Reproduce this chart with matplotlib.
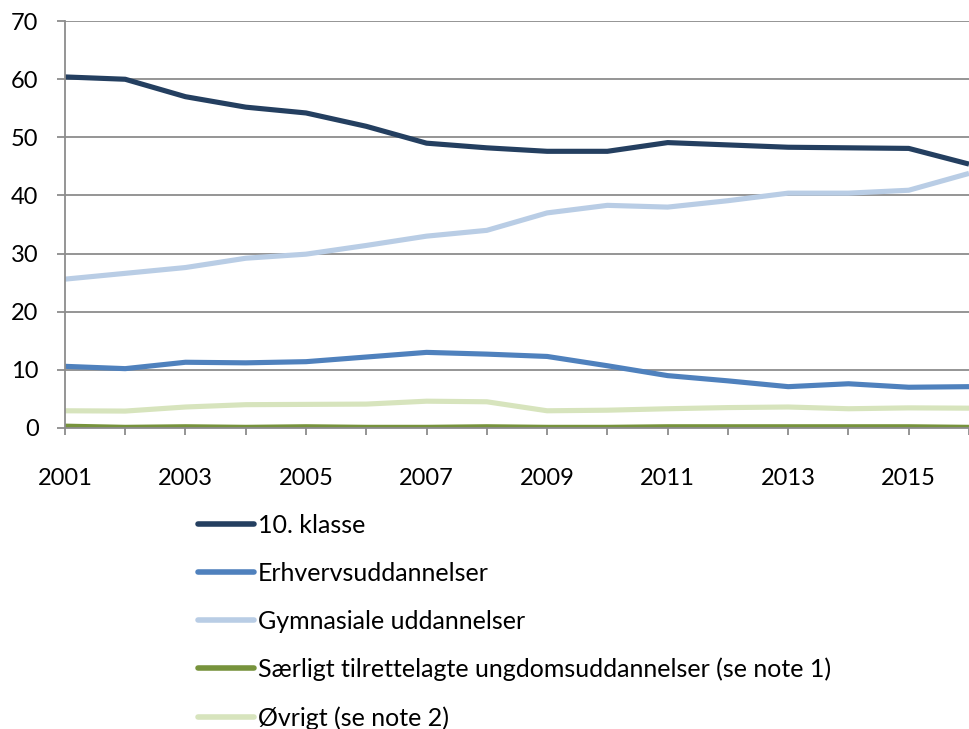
import matplotlib
matplotlib.use("Agg")
import matplotlib.pyplot as plt

years = list(range(2001, 2017))
klasse10 = [60.4, 60.0, 57.0, 55.2, 54.2, 51.9, 49.0, 48.2, 47.6, 47.6, 49.1, 48.7, 48.3, 48.2, 48.1, 45.4]
erhverv = [10.6, 10.2, 11.3, 11.2, 11.4, 12.2, 13.0, 12.7, 12.3, 10.7, 9.0, 8.1, 7.1, 7.6, 7.0, 7.1]
gymnasiale = [25.6, 26.6, 27.6, 29.2, 29.9, 31.4, 33.0, 34.0, 37.0, 38.3, 38.0, 39.1, 40.4, 40.4, 40.9, 43.8]
saerligt = [0.3, 0.1, 0.2, 0.1, 0.2, 0.1, 0.1, 0.2, 0.1, 0.1, 0.2, 0.2, 0.2, 0.2, 0.2, 0.1]
oevrigt = [2.95, 2.9, 3.6, 4.0, 4.05, 4.1, 4.6, 4.5, 2.95, 3.05, 3.3, 3.5, 3.6, 3.3, 3.45, 3.4]

labels = ["10. klasse", "Erhvervsuddannelser", "Gymnasiale uddannelser",
          "Særligt tilrettelagte ungdomsuddannelser (se note 1)", "Øvrigt (se note 2)"]
colors = ["#243F60", "#4F81BD", "#B9CDE5", "#77933C", "#D7E4BD"]
series = [klasse10, erhverv, gymnasiale, saerligt, oevrigt]

yticks = [0, 10, 20, 30, 40, 50, 60, 70]
xlabels_years = [2001, 2003, 2005, 2007, 2009, 2011, 2013, 2015]

plt.rcParams['font.family'] = ['Lato', 'DejaVu Sans']

fig = plt.figure(figsize=(9.69, 7.29), dpi=100)
ax = fig.add_axes([0.067, 0.413, 0.933, 0.558])

for vals, lab, col in zip(series, labels, colors):
    ax.plot(years, vals, color=col, lw=3.7, label=lab, solid_capstyle='butt', solid_joinstyle='round')

ax.set_xlim(2001, 2016)
ax.set_ylim(0, 70)
ax.set_yticks(yticks)
ax.set_yticklabels([str(v) for v in yticks])
ax.set_xticks(years)
ax.set_xticklabels([str(y) if y in xlabels_years else "" for y in years])
ax.yaxis.grid(True, color="#8C8C8C", lw=1.3)
ax.set_axisbelow(True)
for s in ["top", "right"]:
    ax.spines[s].set_visible(False)
for s in ["left", "bottom"]:
    ax.spines[s].set_color("#8C8C8C")
    ax.spines[s].set_linewidth(1.3)
ax.tick_params(axis='y', length=6, width=1.3, color="#8C8C8C", pad=13, labelsize=17)
ax.tick_params(axis='x', length=5, width=1.3, color="#8C8C8C", pad=24, labelsize=17)

leg = fig.legend(loc='upper left', bbox_to_anchor=(0.204, 0.2955), frameon=False,
                 fontsize=18, handlelength=2.24, handletextpad=0.16, labelspacing=1.0,
                 borderaxespad=0, borderpad=0)
for h in leg.get_lines():
    h.set_linewidth(4.0)
    h.set_solid_capstyle('round')

fig.savefig("out.png", dpi=100)
